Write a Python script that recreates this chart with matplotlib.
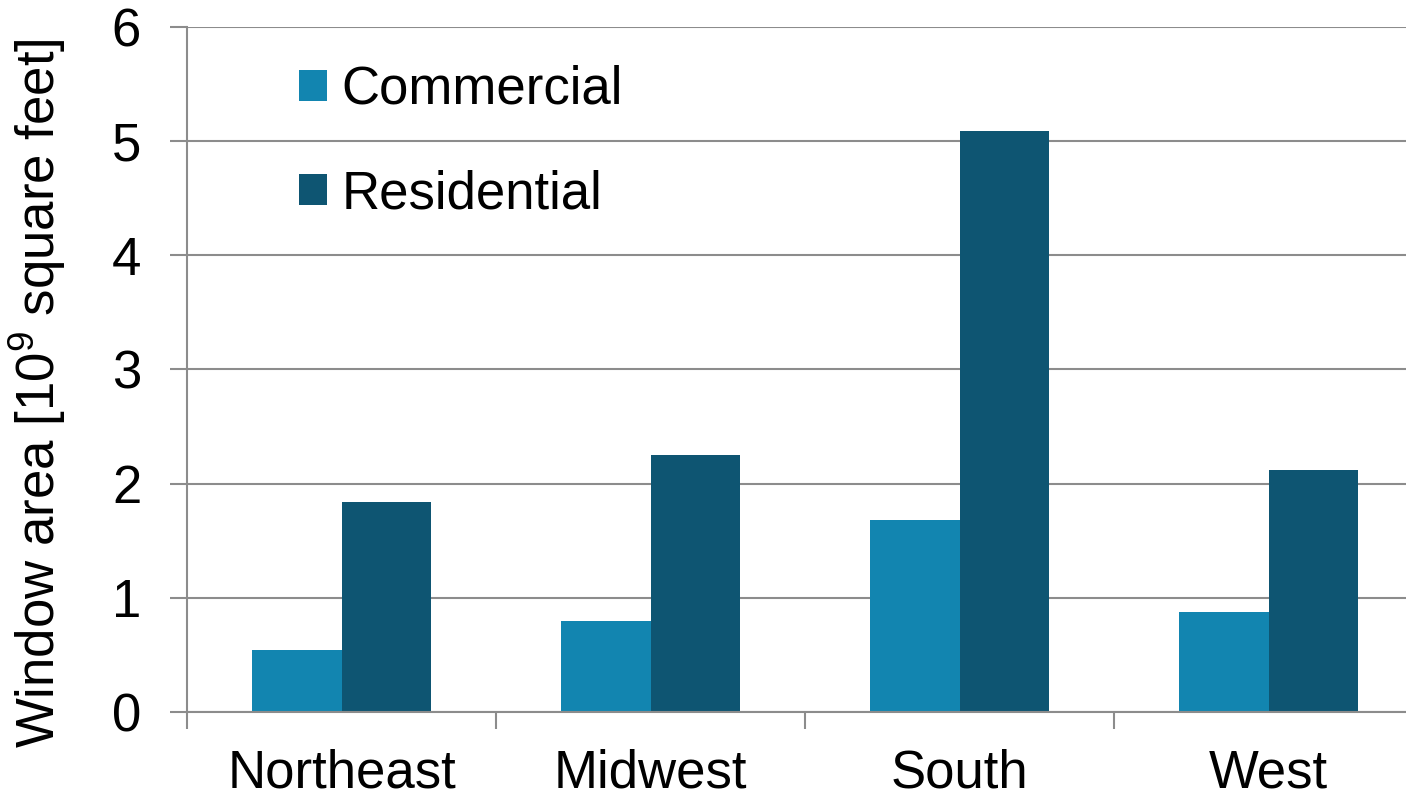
import numpy as np
import matplotlib
matplotlib.use("Agg")
import matplotlib.pyplot as plt

regions = ["Northeast", "Midwest", "South", "West"]
commercial = [0.54, 0.80, 1.68, 0.88]
residential = [1.84, 2.25, 5.09, 2.12]
yticks = [0, 1, 2, 3, 4, 5, 6]

plt.rcParams['font.family'] = ['Liberation Sans', 'DejaVu Sans']
plt.rcParams['mathtext.fontset'] = 'custom'
plt.rcParams['mathtext.rm'] = 'Liberation Sans'
plt.rcParams['mathtext.it'] = 'Liberation Sans:italic'

grid_color = '#8c8c8c'
fs = 38

fig = plt.figure(figsize=(14.06, 7.98), dpi=100)
ax = fig.add_axes([187 / 1406, 1 - 712 / 798, 1 - 187 / 1406, (712 - 27) / 798])

x = np.arange(len(regions))
w = 0.29
ax.bar(x - w / 2, commercial, w, color='#1285B0', label='Commercial', zorder=3)
ax.bar(x + w / 2, residential, w, color='#0E5572', label='Residential', zorder=3)

ax.set_xlim(-0.5, 3.5 - 17 / 309)
ax.set_ylim(0, 6)
ax.set_yticks(yticks)
ax.set_yticklabels([str(t) for t in yticks], fontsize=fs)
ax.tick_params(axis='y', length=12, width=1.5, color=grid_color, pad=21)

# category boundaries as tick marks, labels at centres
ax.set_xticks(np.arange(-0.5, 3.5, 1.0))
ax.set_xticklabels([])
ax.tick_params(axis='x', length=12, width=1.5, color=grid_color)
ax.set_xticks(x, minor=True)
ax.set_xticklabels(regions, minor=True, fontsize=fs)
ax.tick_params(axis='x', which='minor', length=0, pad=26)

ax.yaxis.grid(True, color=grid_color, linewidth=1.5, zorder=0)
for s in ['top', 'right']:
    ax.spines[s].set_visible(False)
for s in ['left', 'bottom']:
    ax.spines[s].set_color(grid_color)
    ax.spines[s].set_linewidth(1.5)
ax.spines['bottom'].set_zorder(4)

ax.set_ylabel('Window area [10$^9$ square feet]', fontsize=fs)
ax.yaxis.set_label_coords(-0.098, 0.466)

ax.legend(loc='upper left', bbox_to_anchor=(0.053, 1.014), frameon=False,
          fontsize=fs, labelspacing=1.03, handlelength=0.52, handleheight=0.52,
          handletextpad=0.28)

fig.savefig('out.png', dpi=100)
